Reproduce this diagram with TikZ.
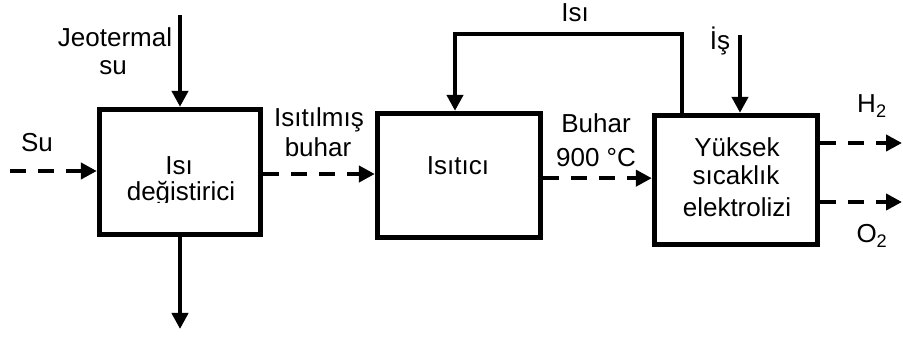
\documentclass[tikz,border=0pt]{standalone}
\usepackage{fontspec}
\setmainfont{Liberation Sans}
\usetikzlibrary{arrows.meta}

\tikzset{
  unit/.style={draw, line width=4pt, minimum width=#1, inner sep=0pt},
  flowline/.style={line width=3pt, -{Triangle[length=12pt,width=12pt]}},
  dashflow/.style={flowline, dash pattern=on 12pt off 9pt},
  lbl/.style={anchor=base, inner sep=0pt, font=\fontsize{19.5}{23}\selectfont},
}

\begin{document}
\begin{tikzpicture}[x=0.75pt, y=-0.75pt]
  \useasboundingbox (0,0) rectangle (903,338);

  % process units
  \node[unit=161*0.75pt, minimum height=125*0.75pt] (hx) at (180,172) {};
  \node[unit=163*0.75pt, minimum height=124*0.75pt] (heater) at (459,175.5) {};
  \node[unit=163*0.75pt, minimum height=129*0.75pt] (hte) at (736,180) {};

  % free ends of the streams
  \coordinate (geoin) at (180,15);
  \coordinate (geoout) at (180,329);
  \coordinate (waterin) at (10,171);
  \coordinate (loop) at (0,34);
  \coordinate (workin) at (740,35);
  \coordinate (hout) at (902,143);
  \coordinate (oout) at (902,202);

  % streams
  \draw[flowline] (geoin) -- (hx.north);
  \draw[flowline] (hx.south) -- (geoout);
  \draw[dashflow] (waterin) -- (waterin -| hx.west);
  \draw[dashflow] ([yshift=-1.5pt]hx.east) -- ([yshift=-1.5pt]hx.east -| heater.west);
  \draw[dashflow] ([yshift=-2pt]heater.east) -- ([yshift=-2pt]heater.east -| hte.west);
  \draw[flowline] ([xshift=-40.5pt]hte.north) |- ([xshift=-3pt]heater.north |- loop)
    -- ([xshift=-3pt]heater.north);
  \draw[flowline] (workin) -- (workin |- hte.north);
  \draw[dashflow] (hout -| hte.east) -- (hout);
  \draw[dashflow] (oout -| hte.east) -- (oout);

  % labels
  \node[lbl] (l1a) at (115,47) {Jeotermal};
  \node[lbl] (l1b) at (113,75) {su};
  \node[lbl] (l2) at (37,152) {Su};
  \node[lbl] (l3a) at (179,175) {Isı};
  \begin{scope}
    \clip (100,150) rectangle (260,202.5);
    \node[lbl] (l3b) at (181,201) {değistirici};
  \end{scope}
  \node[lbl] (l4a) at (319,127) {Isıtılmış};
  \node[lbl] (l4b) at (318,157) {buhar};
  \node[lbl] (l5) at (458,175) {Isıtıcı};
  \node[lbl] (l6a) at (596,133) {Buhar};
  \node[lbl] (l6b) at (596,167) {900 °C};
  \node[lbl] (l7) at (575,22) {Isı};
  \node[lbl] (l8) at (720,50) {İş};
  \node[lbl] (l9a) at (737,157) {Yüksek};
  \node[lbl] (l9b) at (736,185) {sıcaklık};
  \node[lbl] (l9c) at (737,217) {elektrolizi};
  \node[lbl] (l10) at (872,113) {H\textsubscript{2}};
  \node[lbl] (l11) at (872,243) {O\textsubscript{2}};
\end{tikzpicture}
\end{document}
